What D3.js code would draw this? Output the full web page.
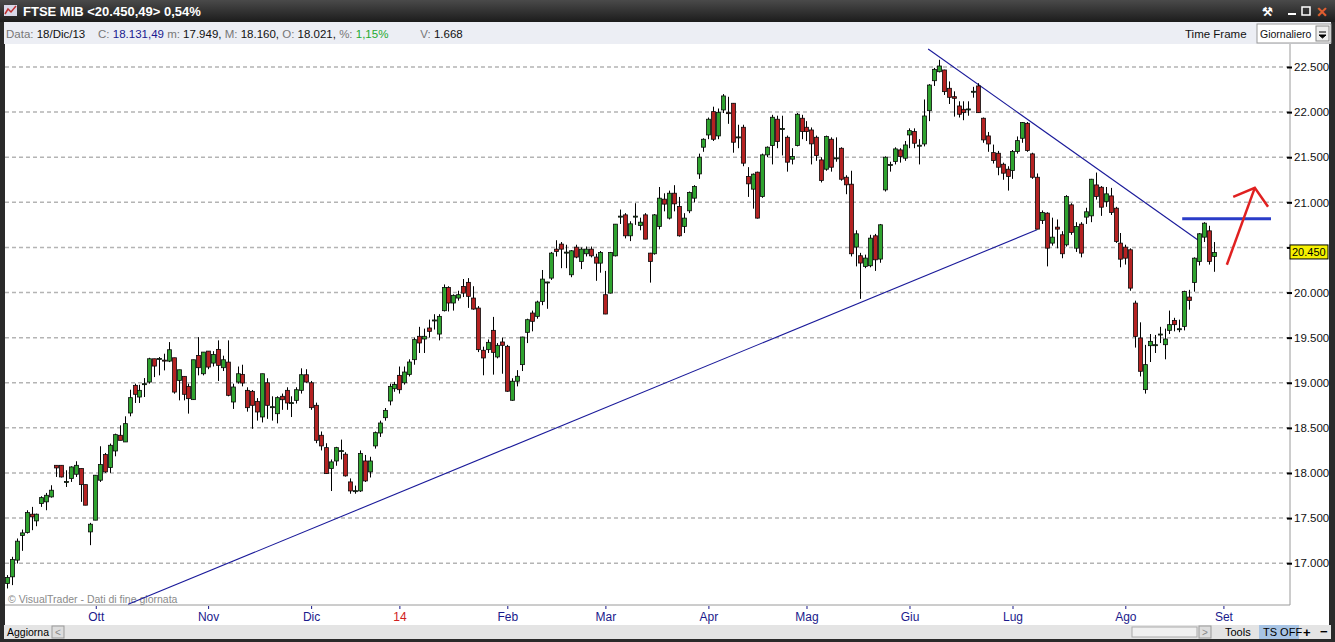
<!DOCTYPE html>
<html><head><meta charset="utf-8">
<script src="https://cdn.jsdelivr.net/npm/d3@7/dist/d3.min.js"></script>
<style>body{margin:0;background:#222;overflow:hidden}svg{display:block;font-family:"Liberation Sans",Arial,sans-serif}</style>
</head><body><svg id="c" width="1335" height="642"></svg>
<script>
const title = "FTSE MIB <20.450,49> 0,54%";
const lastPrice = 20450;
const priceTicks = [17000,17500,18000,18500,19000,19500,20000,20500,21000,21500,22000,22500];
const monthLabels = ["Ott","Nov","Dic","14","Feb","Mar","Apr","Mag","Giu","Lug","Ago","Set"];
const monthIdx = [18.1,41,62,80,102,122,143,163,184,205,228,248];
// [open, high, low, close]
const ohlc = [
[16776,16868,16720,16842],[16849,17071,16757,17041],[17034,17274,16997,17244],[17307,17373,17137,17336],[17340,17587,17329,17561],
[17543,17624,17366,17514],[17469,17550,17410,17543],[17661,17742,17624,17727],[17680,17779,17587,17753],[17735,17864,17727,17809],
[18085,18085,17956,18056],[18085,18085,17950,17956],[17901,18030,17845,17905],[17938,18074,17901,18067],[17986,18130,17956,18085],
[18049,18049,17680,17871],[17871,17871,17643,17643],[17347,17447,17200,17432],[17477,17975,17477,17975],[17920,18296,17901,18093],
[18204,18222,18001,18012],[18060,18326,18001,18307],[18244,18436,18185,18425],[18418,18528,18362,18362],[18344,18628,18344,18547],
[18665,18923,18628,18835],[18971,18990,18776,18872],[18842,18978,18776,18916],[18986,19052,18842,18990],[19008,19277,18990,19266],
[19266,19266,19063,19185],[19266,19285,19082,19270],[19251,19322,19137,19248],[19240,19451,19229,19366],[19277,19277,18879,18897],
[19026,19144,18805,19144],[19071,19071,18805,18872],[18960,18990,18658,18824],[18813,19255,18813,19255],[19303,19506,19082,19167],
[19100,19340,19082,19340],[19351,19351,19150,19174],[19218,19350,19180,19314],[19370,19470,19020,19193],[19167,19300,19130,19255],
[19229,19470,18850,18861],[18787,18990,18710,18953],[19008,19180,18990,19100],[19093,19200,18960,18997],[18916,18950,18680,18724],
[18905,18920,18490,18750],[18794,18830,18580,18676],[18621,19100,18560,19100],[19000,19050,18600,18750],[18730,18850,18580,18735],
[18657,18850,18550,18835],[18850,18880,18700,18812],[18916,18950,18700,18776],[18776,18850,18620,18780],[18805,18950,18770,18923],
[18916,19160,18880,19089],[19089,19150,19000,19008],[19000,19020,18700,18724],[18750,18780,18330,18362],[18418,18460,18250,18300],
[18281,18330,17990,17993],[18049,18150,17800,18123],[18133,18290,18080,18281],[18244,18370,18150,18248],[18208,18230,17960,17968],
[17901,17940,17770,17801],[17800,17860,17770,17804],[17801,18250,17790,18215],[18133,18200,17900,17912],[18012,18180,17950,18133],
[18300,18460,18270,18447],[18443,18580,18400,18554],[18613,18720,18580,18694],[18798,18990,18750,18960],[18934,19010,18900,18982],
[19082,19180,18880,18923],[19000,19180,18980,19119],[19093,19260,19070,19230],[19256,19500,19200,19478],[19515,19620,19330,19441],
[19485,19600,19330,19515],[19607,19700,19500,19570],[19692,19760,19590,19696],[19540,19760,19470,19736],[19799,20090,19790,20057],
[20057,20070,19790,19884],[19884,19980,19800,19969],[19939,20020,19910,19976],[20068,20150,19950,19994],[20113,20160,19830,19958],
[19939,20070,19810,19817],[19828,19850,19340,19367],[19360,19400,19083,19275],[19367,19480,19330,19448],[19581,19730,19090,19337],
[19286,19440,19270,19415],[19452,19500,19100,19415],[19404,19420,18900,18906],[18806,19050,18800,19017],[19017,19140,18960,19072],
[19201,19510,19130,19507],[19559,19710,19440,19699],[19773,19800,19570,19681],[19736,19910,19710,19895],[19902,20250,19860,20149],
[20113,20120,19820,20117],[20160,20450,20140,20437],[20481,20580,20400,20456],[20537,20560,20270,20481],[20444,20530,20270,20448],
[20197,20470,20170,20463],[20503,20530,20380,20393],[20345,20500,20260,20481],[20430,20510,20400,20481],[20481,20510,20390,20407],
[20393,20430,20130,20326],[20326,20460,20220,20444],[19976,20240,19760,19762],[19994,20450,19990,20444],[20407,20760,20400,20758],
[20843,20920,20760,20847],[20861,20880,20600,20629],[20629,20790,20570,20762],[20843,20990,20750,20847],[20743,20830,20690,20780],
[20861,20880,20590,20592],[20437,20440,20110,20345],[20430,20870,20420,20861],[20732,21170,20700,21046],[21035,21100,20900,20980],
[20825,21130,20810,21101],[21101,21190,20900,20983],[20954,21060,20620,20629],[20732,20880,20660,20825],[20906,21120,20880,21109],
[21046,21190,21000,21175],[21315,21540,21260,21500],[21611,21710,21560,21699],[21747,21940,21700,21921],[22005,22060,21680,21699],
[21736,22040,21700,21998],[22024,22200,21990,22179],[21994,22170,21870,21990],[22098,22100,21550,21666],[21721,21860,21600,21725],
[21832,21860,21400,21434],[21286,21390,21060,21205],[21146,21320,20930,21312],[21334,21340,20820,20825],[21064,21540,21050,21526],
[21526,21620,21500,21611],[21629,21970,21420,21943],[21921,21960,21600,21674],[21814,21960,21520,21818],[21721,21740,21340,21445],
[21478,21600,21420,21508],[21629,21990,21620,21976],[21932,21970,21700,21784],[21832,21900,21680,21784],[21802,21830,21420,21648],
[21721,21740,21460,21518],[21470,21500,21220,21242],[21367,21740,21350,21729],[21699,21720,21340,21389],[21489,21720,21450,21493],
[21599,21610,21240,21256],[21278,21300,21090,21194],[21201,21350,20400,20430],[20504,20690,20290,20651],[20408,20440,19930,20327],
[20290,20420,20270,20382],[20297,20640,20280,20603],[20629,20650,20240,20363],[20371,20760,20330,20751],[21138,21510,21120,21500],
[21415,21450,21340,21419],[21452,21610,21420,21592],[21581,21600,21440,21507],[21489,21680,21460,21636],[21747,21820,21600,21795],
[21784,21820,21600,21655],[21629,21700,21420,21633],[21647,22140,21620,21957],[22016,22310,21900,22300],[22348,22490,22290,22474],
[22448,22580,22440,22511],[22467,22470,22190,22227],[22264,22340,22090,22164],[22171,22230,21950,22153],[22068,22120,21940,21976],
[22031,22120,21910,21994],[22031,22120,21960,22035],[22227,22280,22160,22231],[22290,22320,21990,21994],[21932,21940,21660,21692],
[21736,21780,21560,21647],[21551,21640,21430,21463],[21544,21570,21300,21389],[21422,21440,21250,21323],[21367,21400,21130,21286],
[21352,21580,21260,21563],[21563,21730,21540,21684],[21710,21890,21660,21884],[21876,21890,21560,21574],[21537,21550,21260,21278],
[21278,21320,20700,20703],[20799,20910,20760,20887],[20880,20890,20290,20492],[20548,20830,20520,20614],[20725,20810,20490,20703],
[20640,20680,20380,20430],[20529,21080,20510,21064],[20972,20990,20640,20666],[20492,20780,20450,20732],[20758,20780,20390,20437],
[20836,20940,20760,20895],[20850,21260,20780,21256],[21193,21330,21030,21064],[21167,21180,20850,20946],[21009,21170,20950,21094],
[21071,21160,20860,20887],[20935,20950,20550,20566],[20548,20660,20280,20370],[20503,20530,20310,20381],[20474,20490,20020,20049],
[19883,19910,19390,19514],[19496,19670,19070,19127],[18924,19420,18880,19201],[19411,19540,19230,19459],[19418,19530,19330,19422],
[19536,19620,19440,19540],[19422,19600,19260,19485],[19581,19800,19540,19644],[19691,19720,19570,19644],[19595,19700,19560,19599],
[19625,20020,19580,20013],[19950,20030,19810,19913],[20112,20390,20010,20381],[20345,20660,20300,20651],[20614,20780,20560,20769],
[20684,20740,20310,20345],[20400,20560,20230,20444]
];
// drawn lines: [idx, price] endpoints
const supportLine = [[24.7,16544],[210,20696]];
const resistLine = [[187.8,22699],[243.6,20552]];
const levelLine = [[239.6,20817],[257.7,20817]];
const arrowShaft = [[248.7,20308],[254.4,21160]];
const arrowHead = [[250,21061],[254.4,21160],[257.1,20950]];

const svg = d3.select("#c");
const x = d3.scaleLinear().domain([0,246]).range([7,1213.6]);
const y = d3.scaleLinear().domain([17000,22500]).range([563.2,67]);
const L = 5, R = 1290, T = 44, B = 605;
const fmt = d => d3.format(",")(d).replace(",",".");

// frame
svg.append("rect").attr("width",1335).attr("height",642).attr("fill","#2a2a2a");
const tg = svg.append("defs").append("linearGradient").attr("id","tb").attr("x2",0).attr("y2",1);
tg.append("stop").attr("offset",0).attr("stop-color","#4a4a4a");
tg.append("stop").attr("offset",1).attr("stop-color","#1c1c1c");
svg.append("rect").attr("width",1335).attr("height",22).attr("fill","url(#tb)");
svg.append("rect").attr("x",4).attr("y",5).attr("width",13).attr("height",11).attr("fill","#d8d8e8");
svg.append("path").attr("d","M5,14 L8,9 L11,12 L16,6").attr("stroke","#c03030").attr("fill","none").attr("stroke-width",1.5);
svg.append("text").attr("x",23).attr("y",16).attr("fill","#fff").attr("font-size",13).attr("font-weight","bold").text(title);
svg.append("text").attr("x",1262).attr("y",16).attr("fill","#fff").attr("font-size",12).attr("font-weight","bold").text("⚒");
svg.append("rect").attr("x",1288).attr("y",13).attr("width",8).attr("height",2).attr("fill","#fff");
svg.append("rect").attr("x",1302).attr("y",7).attr("width",8).attr("height",8).attr("fill","none").attr("stroke","#fff").attr("stroke-width",1.5);
svg.append("text").attr("x",1316).attr("y",17).attr("fill","#e06030").attr("font-size",14).attr("font-weight","bold").text("✕");

// info bar
svg.append("rect").attr("x",4).attr("y",22).attr("width",1327).attr("height",22).attr("fill","#eceef4");
const info = svg.append("text").attr("x",6).attr("y",38).attr("font-size",11.5).attr("xml:space","preserve");
[["Data: ","#777"],["18/Dic/13","#111"],["    C: ","#777"],["18.131,49","#1a1a90"],[" m: ","#777"],["17.949,","#111"],[" M: ","#777"],["18.160,","#111"],[" O: ","#777"],["18.021,","#111"],[" %: ","#777"],["1,15%","#1faa30"],["          V: ","#777"],["1.668","#111"]]
.forEach(d=>info.append("tspan").attr("fill",d[1]).text(d[0]));
svg.append("text").attr("x",1185).attr("y",38).attr("font-size",11.5).attr("fill","#111").text("Time Frame");
svg.append("rect").attr("x",1257).attr("y",24).attr("width",74).attr("height",19).attr("fill","#fff").attr("stroke","#999");
svg.append("text").attr("x",1260).attr("y",38).attr("font-size",10.5).attr("fill","#111").text("Giornaliero");
svg.append("rect").attr("x",1316).attr("y",26).attr("width",13).attr("height",15).attr("fill","#eee").attr("stroke","#888");
svg.append("path").attr("d","M1319,32h7M1319,35h7l-3.5,3z").attr("stroke","#000").attr("fill","#000");

// plot bg
svg.append("rect").attr("x",L).attr("y",T).attr("width",1324).attr("height",B+20-T).attr("fill","#fff");
svg.append("path").attr("d",`M${L},${B}H${R}V${T}`).attr("stroke","#9a9a9a").attr("fill","none");

// grid
svg.append("g").selectAll("line").data(priceTicks).join("line")
  .attr("x1",L).attr("x2",R).attr("y1",d=>y(d)).attr("y2",d=>y(d))
  .attr("stroke","#b4b4b4").attr("stroke-width",1.5).attr("stroke-dasharray","4,3");

// right axis (the tick hidden by the last-price box gets no label)
const ya = d3.axisRight(y).tickValues(priceTicks).tickSize(5)
  .tickFormat(d => Math.abs(y(d)-y(lastPrice))<12 ? "" : fmt(d));
const gy = svg.append("g").attr("transform",`translate(${R-3},0)`).call(ya);
gy.select(".domain").remove();
gy.selectAll("line").attr("stroke","#000").attr("stroke-width",2);
gy.selectAll("text").attr("font-size",11.5).attr("fill","#111").attr("x",7);

// bottom axis
const xa = d3.axisBottom(x).tickValues(monthIdx).tickSize(3).tickFormat((d,i)=>monthLabels[i]);
const gx = svg.append("g").attr("transform",`translate(0,${B+1})`).call(xa);
gx.select(".domain").remove();
gx.selectAll("line").attr("stroke","#1a1a8c");
gx.selectAll("text").attr("font-size",12).attr("y",6).attr("fill",(d,i)=>monthLabels[i]==="14"?"#d02020":"#1a1a8c");

// watermark
svg.append("text").attr("x",8).attr("y",603).attr("font-size",10.5).attr("fill","#8a8a8a").text("© VisualTrader - Dati di fine giornata");

// lines
const ln = d3.line().x(d=>x(d[0])).y(d=>y(d[1]));
svg.append("path").attr("d",ln(supportLine)).attr("stroke","#1a1a9a").attr("fill","none").attr("stroke-width",1.1);
svg.append("path").attr("d",ln(resistLine)).attr("stroke","#1a1a9a").attr("fill","none").attr("stroke-width",1.1);

// candles
const g = svg.append("g");
g.selectAll("line").data(ohlc).join("line")
  .attr("x1",(d,i)=>Math.round(x(i))+0.5).attr("x2",(d,i)=>Math.round(x(i))+0.5)
  .attr("y1",d=>y(d[1])).attr("y2",d=>y(d[2])).attr("stroke","#000");
g.selectAll("rect").data(ohlc).join("rect")
  .attr("x",(d,i)=>Math.round(x(i))-1.5).attr("width",4)
  .attr("y",d=>y(Math.max(d[0],d[3]))).attr("height",d=>Math.max(1,Math.abs(y(d[0])-y(d[3]))))
  .attr("fill",d=>d[3]>=d[0]?"#2fa32f":"#b52222").attr("stroke","#0a0a0a").attr("stroke-width",0.8);

svg.append("path").attr("d",ln(levelLine)).attr("stroke","#2a3cc8").attr("stroke-width",3).attr("fill","none");
svg.append("path").attr("d",ln(arrowShaft)).attr("stroke","#e02020").attr("stroke-width",2.5).attr("fill","none");
svg.append("path").attr("d",ln(arrowHead)).attr("stroke","#e02020").attr("stroke-width",2.5).attr("fill","none");

// last price label
svg.append("rect").attr("x",R).attr("y",y(lastPrice)-7).attr("width",38).attr("height",14).attr("fill","#f6f000").attr("stroke","#000");
svg.append("text").attr("x",R+2).attr("y",y(lastPrice)+4).attr("font-size",11).attr("fill","#000").text(fmt(lastPrice));

// bottom bar
svg.append("rect").attr("x",4).attr("y",625).attr("width",1327).attr("height",14).attr("fill","#e4e4e4");
svg.append("text").attr("x",7).attr("y",636).attr("font-size",10.5).attr("fill","#000").text("Aggiorna");
svg.append("rect").attr("x",52).attr("y",626).attr("width",12).attr("height",12).attr("fill","#ddd").attr("stroke","#999");
svg.append("text").attr("x",55).attr("y",636).attr("font-size",10).attr("fill","#888").text("<");
svg.append("rect").attr("x",1132).attr("y",627).attr("width",65).attr("height",10).attr("fill","#f0f0f0").attr("stroke","#aaa");
svg.append("rect").attr("x",1199).attr("y",626).attr("width",12).attr("height",12).attr("fill","#ddd").attr("stroke","#999");
svg.append("text").attr("x",1202).attr("y",636).attr("font-size",10).attr("fill","#888").text(">");
svg.append("text").attr("x",1225).attr("y",636).attr("font-size",11).attr("fill","#000").text("Tools");
svg.append("rect").attr("x",1259).attr("y",625).attr("width",40).attr("height",14).attr("fill","#a8c4e4");
svg.append("text").attr("x",1263).attr("y",636).attr("font-size",11).attr("fill","#000").text("TS OFF");
svg.append("text").attr("x",1303).attr("y",637).attr("font-size",13).attr("font-weight","bold").attr("fill","#000").text("+");
svg.append("text").attr("x",1320).attr("y",636).attr("font-size",13).attr("font-weight","bold").attr("fill","#000").text("−");
</script></body></html>
